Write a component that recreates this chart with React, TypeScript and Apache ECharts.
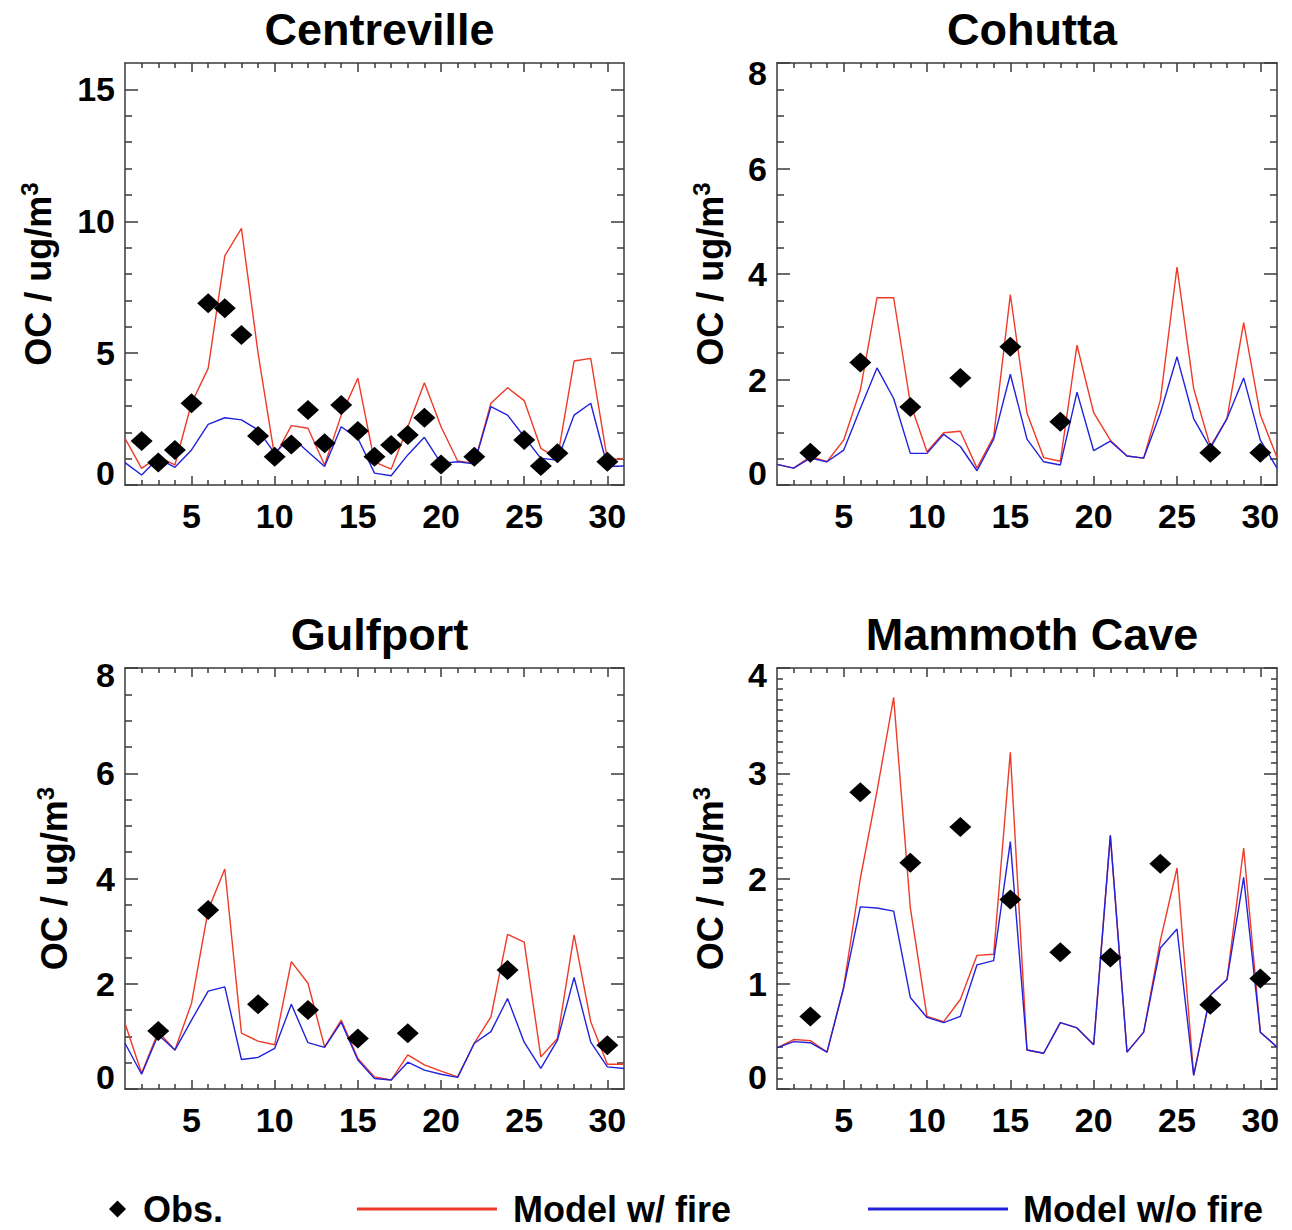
import React, { useEffect, useRef } from "react";
import * as echarts from "echarts";

// ---------- data ----------
const days = [1, 2, 3, 4, 5, 6, 7, 8, 9, 10, 11, 12, 13, 14, 15, 16, 17, 18, 19, 20, 21, 22, 23, 24, 25, 26, 27, 28, 29, 30, 31];
const xTickLabels = [5, 10, 15, 20, 25, 30];

const centrevilleFire = [1.77, 0.63, 1.07, 0.76, 3.1, 4.42, 8.69, 9.73, 5.0, 1.07, 2.25, 2.15, 0.76, 2.65, 4.05, 0.88, 0.6, 2.2, 3.88, 2.21, 0.91, 0.82, 3.1, 3.69, 3.2, 1.39, 1.01, 4.7, 4.8, 0.95, 1.01];
const centrevilleNoFire = [0.85, 0.38, 1.01, 0.67, 1.33, 2.3, 2.55, 2.47, 2.09, 1.2, 1.83, 1.26, 0.7, 2.21, 1.77, 0.45, 0.35, 1.14, 1.81, 0.82, 0.88, 0.8, 2.97, 2.65, 1.83, 1.01, 0.95, 2.65, 3.1, 0.7, 0.72];
const centrevilleObsDays = [2, 3, 4, 5, 6, 7, 8, 9, 10, 11, 12, 13, 14, 15, 16, 17, 18, 19, 20, 22, 25, 26, 27, 30];
const centrevilleObs = [1.67, 0.85, 1.33, 3.1, 6.89, 6.7, 5.69, 1.86, 1.07, 1.54, 2.84, 1.58, 3.03, 2.05, 1.07, 1.52, 1.9, 2.55, 0.78, 1.07, 1.71, 0.72, 1.2, 0.88];

const cohuttaFire = [0.39, 0.32, 0.54, 0.44, 0.85, 1.8, 3.55, 3.55, 1.55, 0.63, 0.99, 1.02, 0.32, 0.92, 3.61, 1.36, 0.52, 0.45, 2.65, 1.37, 0.85, 0.55, 0.51, 1.61, 4.13, 1.83, 0.73, 1.26, 3.08, 1.33, 0.52];
const cohuttaNoFire = [0.39, 0.32, 0.51, 0.44, 0.66, 1.45, 2.22, 1.64, 0.6, 0.6, 0.96, 0.73, 0.27, 0.87, 2.1, 0.87, 0.44, 0.38, 1.76, 0.65, 0.83, 0.55, 0.51, 1.36, 2.43, 1.26, 0.7, 1.26, 2.03, 0.85, 0.32];
const cohuttaObsDays = [3, 6, 9, 12, 15, 18, 27, 30];
const cohuttaObs = [0.61, 2.32, 1.48, 2.03, 2.62, 1.2, 0.61, 0.61];

const gulfportFire = [1.25, 0.3, 1.09, 0.74, 1.63, 3.4, 4.18, 1.06, 0.91, 0.84, 2.42, 2.01, 0.8, 1.31, 0.58, 0.23, 0.17, 0.65, 0.46, 0.34, 0.23, 0.87, 1.37, 2.94, 2.79, 0.61, 0.96, 2.93, 1.28, 0.47, 0.47];
const gulfportNoFire = [0.87, 0.28, 1.03, 0.74, 1.31, 1.86, 1.94, 0.56, 0.6, 0.77, 1.61, 0.88, 0.79, 1.27, 0.55, 0.2, 0.17, 0.51, 0.36, 0.28, 0.22, 0.87, 1.09, 1.72, 0.89, 0.39, 0.93, 2.12, 0.89, 0.42, 0.39];
const gulfportObsDays = [3, 6, 9, 12, 15, 18, 24, 30];
const gulfportObs = [1.1, 3.4, 1.61, 1.5, 0.96, 1.06, 2.26, 0.83];

const mammothFire = [0.39, 0.47, 0.46, 0.35, 0.97, 2.0, 2.83, 3.72, 1.72, 0.69, 0.64, 0.85, 1.27, 1.28, 3.2, 0.37, 0.34, 0.63, 0.58, 0.42, 2.41, 0.35, 0.54, 1.41, 2.1, 0.13, 0.89, 1.04, 2.29, 0.54, 0.4];
const mammothNoFire = [0.39, 0.45, 0.44, 0.35, 0.96, 1.73, 1.72, 1.69, 0.87, 0.68, 0.63, 0.69, 1.18, 1.22, 2.35, 0.37, 0.34, 0.63, 0.58, 0.42, 2.41, 0.35, 0.54, 1.34, 1.52, 0.13, 0.89, 1.04, 2.01, 0.54, 0.4];
const mammothObsDays = [3, 6, 9, 12, 15, 18, 21, 24, 27, 30];
const mammothObs = [0.69, 2.82, 2.15, 2.49, 1.8, 1.3, 1.25, 2.14, 0.8, 1.05];

const centrevilleYTicks = [0, 5, 10, 15];
const cohuttaYTicks = [0, 2, 4, 6, 8];
const gulfportYTicks = [0, 2, 4, 6, 8];
const mammothYTicks = [0, 1, 2, 3, 4];

const OBS = "Obs.";
const FIRE = "Model w/ fire";
const NOFIRE = "Model w/o fire";

// ---------- styling ----------
const FONT = "'Liberation Sans', Arial, Helvetica, sans-serif";
const RED = "#ee3a26";
const BLUE = "#2222dc";
const FRAME = "#3a3a3a";

function steps(min: number, max: number, step: number, exclude: number[]) {
  const out: number[] = [];
  const n = Math.round((max - min) / step);
  for (let i = 1; i < n; i++) {
    const v = +(min + i * step).toFixed(4);
    if (!exclude.some((e) => Math.abs(e - v) < 1e-6)) out.push(v);
  }
  return out;
}

type Panel = {
  title: string;
  fire: number[];
  nofire: number[];
  obsDays: number[];
  obs: number[];
  yMax: number;
  yTicks: number[];
  yMinorStep: number;
  grid: { left: number; top: number; width: number; height: number };
  nameGap: number;
  yMinorLen: number;
  topPad: number;
};

const panels: Panel[] = [
  { title: "Centreville", fire: centrevilleFire, nofire: centrevilleNoFire, obsDays: centrevilleObsDays, obs: centrevilleObs, yMax: 16, yTicks: centrevilleYTicks, yMinorStep: 1, grid: { left: 125, top: 63, width: 499, height: 422 }, nameGap: 66, yMinorLen: 7, topPad: 0 },
  { title: "Cohutta", fire: cohuttaFire, nofire: cohuttaNoFire, obsDays: cohuttaObsDays, obs: cohuttaObs, yMax: 8, yTicks: cohuttaYTicks, yMinorStep: 0.5, grid: { left: 777, top: 63, width: 500, height: 422 }, nameGap: 46, yMinorLen: 7, topPad: 20 },
  { title: "Gulfport", fire: gulfportFire, nofire: gulfportNoFire, obsDays: gulfportObsDays, obs: gulfportObs, yMax: 8, yTicks: gulfportYTicks, yMinorStep: 0.5, grid: { left: 125, top: 668, width: 499, height: 421 }, nameGap: 50, yMinorLen: 7, topPad: 14 },
  { title: "Mammoth Cave", fire: mammothFire, nofire: mammothNoFire, obsDays: mammothObsDays, obs: mammothObs, yMax: 4, yTicks: mammothYTicks, yMinorStep: 0.1, grid: { left: 777, top: 668, width: 500, height: 421 }, nameGap: 46, yMinorLen: 6, topPad: 14 },
];

function buildOption() {
  const grids: any[] = [];
  const xAxes: any[] = [];
  const yAxes: any[] = [];
  const series: any[] = [];
  const titles: any[] = [];
  const lineStyle = { color: FRAME, width: 1.5 };
  const labelStyle = { fontFamily: FONT, fontWeight: "bold", fontSize: 34, color: "#000" };
  const xMinor = steps(1, 31, 1, xTickLabels);

  panels.forEach((p, g) => {
    grids.push({ ...p.grid });
    titles.push({
      text: p.title,
      left: p.grid.left + p.grid.width / 2,
      top: p.grid.top - 61,
      textAlign: "center",
      textStyle: { fontFamily: FONT, fontWeight: "bold", fontSize: 45, color: "#000" },
    });
    const xBase = { gridIndex: g, type: "value", min: 1, max: 31, splitLine: { show: false } };
    xAxes.push({
      ...xBase,
      position: "bottom",
      axisLine: { show: true, onZero: false, lineStyle },
      axisTick: { show: true, inside: true, length: 9, customValues: xTickLabels, lineStyle },
      axisLabel: { show: true, customValues: xTickLabels, margin: 14, ...labelStyle },
    });
    xAxes.push({
      ...xBase,
      position: "bottom",
      axisLine: { show: false, onZero: false },
      axisTick: { show: true, inside: true, length: 5, customValues: xMinor, lineStyle },
      axisLabel: { show: false },
    });
    xAxes.push({
      ...xBase,
      position: "top",
      axisLine: { show: true, onZero: false, lineStyle },
      axisTick: { show: true, inside: true, length: 9, customValues: xTickLabels, lineStyle },
      axisLabel: { show: false },
    });
    xAxes.push({
      ...xBase,
      position: "top",
      axisLine: { show: false, onZero: false },
      axisTick: { show: true, inside: true, length: 5, customValues: xMinor, lineStyle },
      axisLabel: { show: false },
    });

    const yMinor = steps(0, p.yMax, p.yMinorStep, p.yTicks);
    const yBase = { gridIndex: g, type: "value", min: 0, max: p.yMax, splitLine: { show: false } };
    const tokenStyle = { fontFamily: FONT, fontWeight: "bold", fontSize: 34, color: "#000" };
    yAxes.push({
      ...yBase,
      position: "left",
      axisLine: { show: true, onZero: false, lineStyle },
      axisTick: { show: true, inside: true, length: 13, customValues: p.yTicks, lineStyle },
      axisLabel: {
        show: true,
        customValues: p.yTicks,
        margin: 10,
        ...labelStyle,
        formatter: (v: number) => {
          if (v === 0) return "{lo|" + v + "}";
          if (v === p.yMax && p.topPad > 0) return "{hi|" + v + "}";
          return "{n|" + v + "}";
        },
        rich: {
          n: { ...tokenStyle },
          lo: { ...tokenStyle, padding: [0, 0, 24, 0] },
          hi: { ...tokenStyle, padding: [p.topPad, 0, 0, 0] },
        },
      },
      name: "{a|OC / ug/m}{s|3}",
      nameLocation: "middle",
      nameRotate: 90,
      nameGap: p.nameGap,
      nameTextStyle: {
        rich: {
          a: { fontFamily: FONT, fontWeight: "bold", fontSize: 36, color: "#000", lineHeight: 42 },
          s: { fontFamily: FONT, fontWeight: "bold", fontSize: 24, color: "#000", verticalAlign: "top", lineHeight: 42 },
        },
      },
    });
    yAxes.push({
      ...yBase,
      position: "left",
      axisLine: { show: false, onZero: false },
      axisTick: { show: true, inside: true, length: p.yMinorLen, customValues: yMinor, lineStyle },
      axisLabel: { show: false },
    });
    yAxes.push({
      ...yBase,
      position: "right",
      axisLine: { show: true, onZero: false, lineStyle },
      axisTick: { show: true, inside: true, length: 13, customValues: p.yTicks, lineStyle },
      axisLabel: { show: false },
    });
    yAxes.push({
      ...yBase,
      position: "right",
      axisLine: { show: false, onZero: false },
      axisTick: { show: true, inside: true, length: p.yMinorLen, customValues: yMinor, lineStyle },
      axisLabel: { show: false },
    });

    const xi = g * 4;
    const yi = g * 4;
    series.push({
      name: FIRE,
      type: "line",
      xAxisIndex: xi,
      yAxisIndex: yi,
      data: days.map((d, i) => [d, p.fire[i]]),
      symbol: "none",
      lineStyle: { color: RED, width: 1.4 },
      itemStyle: { color: RED },
      z: 2,
    });
    series.push({
      name: NOFIRE,
      type: "line",
      xAxisIndex: xi,
      yAxisIndex: yi,
      data: days.map((d, i) => [d, p.nofire[i]]),
      symbol: "none",
      lineStyle: { color: BLUE, width: 1.4 },
      itemStyle: { color: BLUE },
      z: 3,
    });
    series.push({
      name: OBS,
      type: "scatter",
      xAxisIndex: xi,
      yAxisIndex: yi,
      data: p.obsDays.map((d, i) => [d, p.obs[i]]),
      symbol: "diamond",
      symbolSize: [22, 20],
      itemStyle: { color: "#000", opacity: 1 },
      z: 4,
    });
  });

  const legendText = { fontFamily: FONT, fontWeight: "bold", fontSize: 36, color: "#000" };
  const legends = [
    { data: [{ name: OBS, icon: "diamond" }], left: 109, top: 1191, itemWidth: 17, itemHeight: 17, itemStyle: { color: "#000", opacity: 1 }, textStyle: { ...legendText, padding: [0, 0, 0, 12] } },
    { data: [{ name: FIRE, icon: "rect" }], left: 357, top: 1191, itemWidth: 140, itemHeight: 3, itemStyle: { color: RED }, textStyle: { ...legendText, padding: [0, 0, 0, 11] } },
    { data: [{ name: NOFIRE, icon: "rect" }], left: 868, top: 1191, itemWidth: 140, itemHeight: 3, itemStyle: { color: BLUE }, textStyle: { ...legendText, padding: [0, 0, 0, 10] } },
  ].map((l) => ({ ...l, orient: "horizontal", selectedMode: false, padding: 0, itemGap: 0 }));

  return {
    animation: false,
    backgroundColor: "#fff",
    title: titles,
    grid: grids,
    xAxis: xAxes,
    yAxis: yAxes,
    legend: legends,
    series,
  };
}

export default function App() {
  const ref = useRef<HTMLDivElement>(null);
  useEffect(() => {
    if (!ref.current) return;
    const chart = echarts.init(ref.current, undefined, { renderer: "svg" });
    chart.setOption(buildOption() as any);
    return () => chart.dispose();
  }, []);
  return (
    <div
      ref={ref}
      style={{ position: "absolute", left: 0, top: 0, width: 1292, height: 1230, background: "#fff" }}
    />
  );
}
